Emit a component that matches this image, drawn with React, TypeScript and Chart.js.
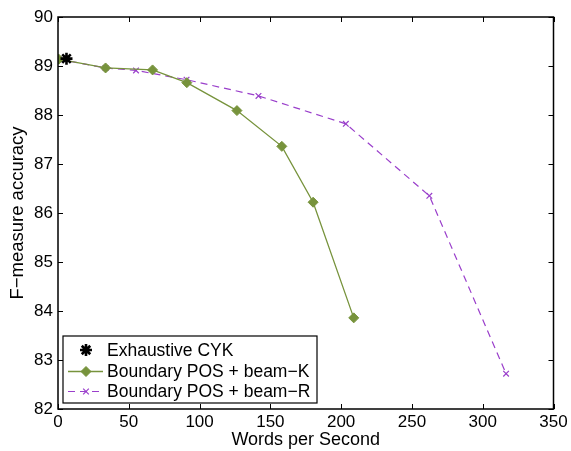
import React, { useEffect, useRef } from "react";
import { Chart, registerables } from "chart.js";
Chart.register(...registerables);

const cykX = [6];
const cykY = [89.15];
const beamKX = [0.5, 33.6, 66.8, 91.0, 126.4, 158.1, 180.2, 208.9];
const beamKY = [89.14, 88.96, 88.92, 88.66, 88.09, 87.36, 86.22, 83.86];
const beamRX = [0.5, 33.6, 55.1, 90.8, 141.6, 203.3, 262.3, 316.5];
const beamRY = [89.14, 88.96, 88.91, 88.72, 88.39, 87.82, 86.35, 82.72];
const seriesLabels = ["Exhaustive CYK", "Boundary POS + beam\u2212K", "Boundary POS + beam\u2212R"];
const xTitle = "Words per Second";
const yTitle = "F\u2212measure accuracy";
const xTicks = [0, 50, 100, 150, 200, 250, 300, 350];
const yTicks = [82, 83, 84, 85, 86, 87, 88, 89, 90];

const GREEN = "#77933C";
const PURPLE = "#9A3FCB";
const FONT = "'Liberation Sans', Arial, Helvetica, sans-serif";

const toPts = (xs: number[], ys: number[]) => xs.map((x, i) => ({ x, y: ys[i] }));

const framePlugin = {
  id: "frame",
  afterDraw(chart: any) {
    const { ctx, chartArea: a, scales } = chart;
    ctx.save();
    ctx.strokeStyle = "#000";
    ctx.lineWidth = 1.5;
    ctx.strokeRect(a.left, a.top, a.right - a.left, a.bottom - a.top);
    ctx.lineWidth = 1;
    const tl = 5;
    ctx.beginPath();
    xTicks.forEach((v) => {
      const px = Math.round(scales.x.getPixelForValue(v)) + 0.5;
      ctx.moveTo(px, a.bottom);
      ctx.lineTo(px, a.bottom - tl);
      ctx.moveTo(px, a.top);
      ctx.lineTo(px, a.top + tl);
    });
    yTicks.forEach((v) => {
      const py = Math.round(scales.y.getPixelForValue(v)) + 0.5;
      ctx.moveTo(a.left, py);
      ctx.lineTo(a.left + tl, py);
      ctx.moveTo(a.right, py);
      ctx.lineTo(a.right - tl, py);
    });
    ctx.stroke();

    // legend
    const bx = 63, by = 336, bw = 254, bh = 67;
    ctx.fillStyle = "#fff";
    ctx.fillRect(bx, by, bw, bh);
    ctx.lineWidth = 1.2;
    ctx.strokeStyle = "#000";
    ctx.strokeRect(bx, by, bw, bh);
    const rows = [350, 371.5, 391.5];
    const ds = chart.data.datasets;
    rows.forEach((ry, i) => {
      const d = ds[i];
      if (i > 0) {
        ctx.save();
        ctx.strokeStyle = d.borderColor;
        ctx.lineWidth = d.borderWidth;
        ctx.setLineDash(d.borderDash || []);
        ctx.beginPath();
        ctx.moveTo(68, ry);
        ctx.lineTo(103, ry);
        ctx.stroke();
        ctx.restore();
      }
      const el = chart.getDatasetMeta(i).data[0];
      if (el) {
        const saved = { x: el.x, y: el.y };
        el.x = 86;
        el.y = ry;
        el.draw(ctx, { left: 0, top: 0, right: 1000, bottom: 1000 });
        el.x = saved.x;
        el.y = saved.y;
      }
      ctx.fillStyle = "#000";
      ctx.font = `17.5px ${FONT}`;
      ctx.textBaseline = "middle";
      ctx.textAlign = "left";
      ctx.fillText(seriesLabels[i], 107, ry + 1);
    });
    ctx.restore();
  },
};

export default function App() {
  const ref = useRef<HTMLCanvasElement | null>(null);
  useEffect(() => {
    if (!ref.current) return;
    const chart = new Chart(ref.current, {
      type: "scatter",
      data: {
        datasets: [
          {
            label: seriesLabels[0],
            data: toPts(cykX, cykY),
            showLine: false,
            pointStyle: "star",
            radius: 6,
            borderWidth: 2.6,
            borderColor: "#000",
            backgroundColor: "#000",
            order: 0,
          } as any,
          {
            label: seriesLabels[1],
            data: toPts(beamKX, beamKY),
            showLine: true,
            borderColor: GREEN,
            backgroundColor: GREEN,
            borderWidth: 1.3,
            pointStyle: "rectRot",
            radius: 5,
            pointBorderWidth: 1,
            order: 1,
          },
          {
            label: seriesLabels[2],
            data: toPts(beamRX, beamRY),
            showLine: true,
            borderColor: PURPLE,
            backgroundColor: PURPLE,
            borderWidth: 1.2,
            borderDash: [7, 5],
            pointStyle: "crossRot",
            radius: 4,
            pointBorderWidth: 1.2,
            order: 2,
          } as any,
        ],
      },
      options: {
        animation: false,
        responsive: false,
        layout: { padding: { left: 0, top: 17, right: 17.5, bottom: 0 } },
        plugins: { legend: { display: false }, tooltip: { enabled: false } },
        scales: {
          x: {
            type: "linear",
            min: 0,
            max: 350,
            afterBuildTicks: (s: any) => {
              s.ticks = xTicks.map((v) => ({ value: v }));
            },
            afterFit: (s: any) => {
              s.height = 42;
            },
            grid: { display: false, drawTicks: false },
            border: { display: false },
            ticks: { color: "#000", font: { family: FONT, size: 17 }, padding: 3, maxRotation: 0 },
            title: { display: true, text: xTitle, color: "#000", font: { family: FONT, size: 18 }, padding: { top: 0, bottom: 0 } },
          },
          y: {
            type: "linear",
            min: 82,
            max: 90,
            afterBuildTicks: (s: any) => {
              s.ticks = yTicks.map((v) => ({ value: v }));
            },
            afterFit: (s: any) => {
              s.width = 58;
            },
            grid: { display: false, drawTicks: false },
            border: { display: false },
            ticks: { color: "#000", font: { family: FONT, size: 17 }, padding: 5 },
            title: { display: true, text: yTitle, color: "#000", font: { family: FONT, size: 18.5 }, padding: { top: 7, bottom: 0 } },
          },
        },
      },
      plugins: [framePlugin],
    });
    return () => chart.destroy();
  }, []);
  return (
    <div style={{ position: "fixed", left: 0, top: 0, width: 571, height: 451, background: "#fff" }}>
      <canvas ref={ref} width={571} height={451} style={{ width: 571, height: 451 }} />
    </div>
  );
}
